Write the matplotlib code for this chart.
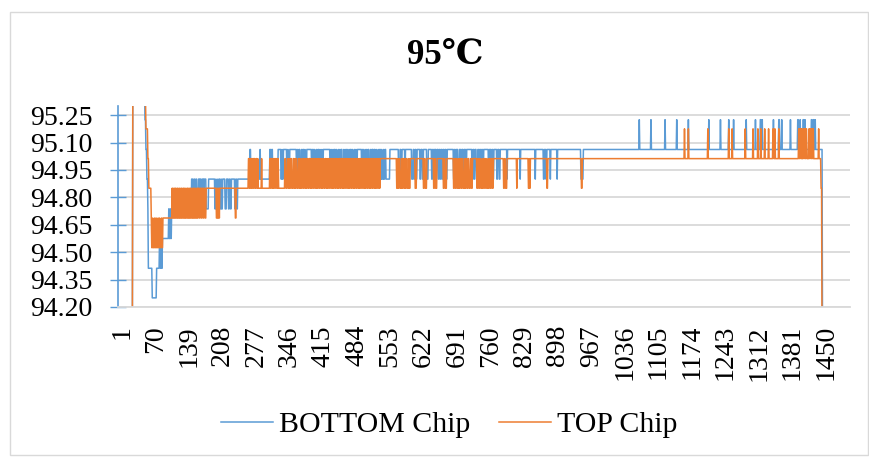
import numpy as np
import matplotlib.pyplot as plt
from matplotlib.patches import Rectangle
from matplotlib.transforms import ScaledTranslation

plt.rcParams['font.family'] = ['Liberation Serif', 'DejaVu Serif']

# ---- data (x = sample number, y = temperature) ----
n_points = 1506
x_tick_values = list(range(1, 1451, 69))
y_tick_values = [94.20, 94.35, 94.50, 94.65, 94.80, 94.95, 95.10, 95.25]

# baseline level: (first sample, value) -> holds until the next entry
bottom_steps = [(1, 94.00), (31, 95.45), (56, 95.225), (58, 95.062), (60, 94.900),
                (62, 94.737), (63, 94.412), (71, 94.250), (80, 94.412), (94, 94.575),
                (105, 94.737), (187, 94.900), (334, 95.062), (1450, 94.00)]
# short excursions off the baseline: (first sample, length, value)
bottom_blips = [
    (86, 2, 94.575), (89, 2, 94.575), (92, 2, 94.575), (106, 2, 94.575), (109, 2, 94.575),
    (152, 3, 94.900), (157, 2, 94.900), (161, 2, 94.900), (166, 3, 94.900), (170, 2, 94.900),
    (174, 3, 94.900), (178, 4, 94.900),
    (183, 3, 94.737), (200, 2, 94.737), (203, 3, 94.737), (207, 2, 94.737), (211, 2, 94.737),
    (214, 2, 94.737), (221, 3, 94.737), (228, 2, 94.737), (232, 2, 94.737), (241, 2, 94.737),
    (245, 2, 94.737),
    (272, 2, 95.062), (293, 1, 95.062), (313, 2, 95.062), (317, 2, 95.062), (330, 4, 95.062),
    (336, 2, 94.900), (339, 2, 94.900), (348, 2, 94.900), (351, 3, 94.900), (368, 2, 94.900),
    (371, 2, 94.900), (375, 3, 94.900), (379, 2, 94.900), (383, 2, 94.900), (386, 3, 94.900),
    (399, 2, 94.900), (403, 2, 94.900), (406, 3, 94.900), (410, 2, 94.900), (414, 2, 94.900),
    (417, 3, 94.900), (421, 2, 94.900), (437, 2, 94.900), (440, 3, 94.900), (444, 2, 94.900),
    (448, 2, 94.900), (451, 3, 94.900), (455, 2, 94.900), (458, 2, 94.900), (462, 3, 94.900),
    (466, 2, 94.900), (469, 2, 94.900), (473, 3, 94.900), (477, 2, 94.900), (481, 2, 94.900),
    (484, 3, 94.900), (488, 2, 94.900), (491, 2, 94.900), (502, 2, 94.900), (506, 3, 94.900),
    (510, 2, 94.900), (513, 2, 94.900), (517, 3, 94.900), (521, 2, 94.900), (526, 2, 94.900),
    (530, 2, 94.900), (533, 3, 94.900), (537, 2, 94.900), (541, 2, 94.900), (544, 3, 94.900),
    (548, 2, 94.900), (552, 8, 94.900),
    (578, 3, 94.900), (583, 2, 94.900), (591, 1, 94.900), (605, 3, 94.900), (610, 2, 94.900),
    (614, 2, 94.900), (622, 2, 94.900), (627, 2, 94.900), (636, 3, 94.900), (646, 2, 94.900),
    (650, 2, 94.900), (655, 2, 94.900), (660, 2, 94.900), (664, 2, 94.900), (668, 2, 94.900),
    (672, 2, 94.900), (676, 2, 94.900), (691, 2, 94.900), (695, 2, 94.900), (700, 3, 94.900),
    (706, 2, 94.900), (711, 2, 94.900), (716, 2, 94.900), (729, 2, 94.900), (733, 2, 94.900),
    (738, 3, 94.900), (743, 2, 94.900), (747, 2, 94.900), (751, 2, 94.900), (763, 2, 94.900),
    (768, 2, 94.900), (772, 2, 94.900), (780, 2, 94.900), (785, 2, 94.900), (801, 1, 94.900),
    (828, 1, 94.900), (859, 1, 94.900), (876, 2, 94.900), (881, 2, 94.900), (890, 1, 94.900),
    (904, 1, 94.900), (953, 5, 94.900),
    (1073, 1, 95.225), (1097, 1, 95.225), (1126, 1, 95.225), (1150, 1, 95.225),
    (1174, 1, 95.225), (1216, 1, 95.225), (1240, 1, 95.225), (1257, 1, 95.225),
    (1267, 1, 95.225), (1293, 1, 95.225), (1312, 1, 95.225), (1322, 2, 95.225),
    (1326, 1, 95.225), (1349, 1, 95.225), (1360, 2, 95.225), (1366, 1, 95.225),
    (1384, 1, 95.225), (1399, 2, 95.225), (1404, 1, 95.225), (1410, 2, 95.225),
    (1414, 1, 95.225), (1427, 2, 95.225), (1431, 2, 95.225), (1435, 1, 95.225),
]

top_steps = [(1, 94.00), (31, 95.45), (56, 95.35), (58, 95.175), (62, 95.012),
             (64, 94.850), (69, 94.687), (112, 94.850), (540, 95.012), (1447, 94.850),
             (1449, 94.00)]
top_blips = [
    (70, 2, 94.525), (73, 3, 94.525), (77, 2, 94.525), (80, 3, 94.525), (84, 2, 94.525),
    (87, 3, 94.525), (91, 2, 94.525),
    (113, 1, 94.687), (115, 2, 94.687), (118, 1, 94.687), (120, 2, 94.687), (123, 1, 94.687),
    (125, 2, 94.687), (128, 2, 94.687), (131, 1, 94.687), (133, 2, 94.687), (136, 1, 94.687),
    (138, 2, 94.687), (141, 2, 94.687), (144, 1, 94.687), (146, 2, 94.687), (149, 1, 94.687),
    (151, 2, 94.687), (154, 2, 94.687), (157, 1, 94.687), (159, 2, 94.687), (162, 2, 94.687),
    (165, 1, 94.687), (168, 2, 94.687), (172, 2, 94.687), (176, 2, 94.687), (180, 2, 94.687),
    (203, 2, 94.687), (206, 2, 94.687), (209, 1, 94.687), (242, 2, 94.687),
    (269, 2, 95.012), (272, 2, 95.012), (275, 1, 95.012), (278, 2, 95.012), (281, 2, 95.012),
    (285, 2, 95.012), (288, 1, 95.012), (296, 1, 95.012), (313, 2, 95.012), (316, 2, 95.012),
    (320, 1, 95.012), (323, 2, 95.012), (327, 2, 95.012), (330, 1, 95.012), (344, 2, 95.012),
    (349, 2, 95.012), (353, 1, 95.012), (356, 2, 95.012), (361, 2, 95.012), (364, 1, 95.012),
    (367, 2, 95.012), (372, 2, 95.012), (375, 1, 95.012), (379, 2, 95.012), (383, 2, 95.012),
    (387, 1, 95.012), (390, 2, 95.012), (394, 2, 95.012), (398, 1, 95.012), (401, 2, 95.012),
    (405, 2, 95.012), (409, 1, 95.012), (412, 2, 95.012), (416, 2, 95.012), (420, 1, 95.012),
    (423, 2, 95.012), (427, 2, 95.012), (431, 1, 95.012), (434, 2, 95.012), (438, 2, 95.012),
    (442, 1, 95.012), (445, 2, 95.012), (449, 2, 95.012), (453, 1, 95.012), (456, 2, 95.012),
    (460, 2, 95.012), (464, 1, 95.012), (467, 2, 95.012), (471, 2, 95.012), (475, 1, 95.012),
    (478, 2, 95.012), (482, 2, 95.012), (486, 1, 95.012), (489, 2, 95.012), (493, 2, 95.012),
    (497, 1, 95.012), (500, 2, 95.012), (504, 2, 95.012), (508, 1, 95.012), (511, 2, 95.012),
    (515, 2, 95.012), (519, 1, 95.012), (522, 2, 95.012), (526, 2, 95.012), (530, 1, 95.012),
    (533, 2, 95.012), (537, 2, 95.012),
    (574, 2, 94.850), (577, 2, 94.850), (581, 3, 94.850), (585, 2, 94.850), (589, 2, 94.850),
    (592, 2, 94.850), (596, 3, 94.850), (600, 2, 94.850), (612, 3, 94.850), (629, 2, 94.850),
    (633, 3, 94.850), (650, 2, 94.850), (654, 3, 94.850), (670, 2, 94.850), (674, 3, 94.850),
    (691, 2, 94.850), (695, 2, 94.850), (699, 3, 94.850), (703, 2, 94.850), (707, 2, 94.850),
    (711, 3, 94.850), (715, 2, 94.850), (719, 2, 94.850), (723, 3, 94.850), (728, 2, 94.850),
    (739, 2, 94.850), (743, 2, 94.850), (747, 3, 94.850), (751, 2, 94.850), (755, 2, 94.850),
    (759, 3, 94.850), (763, 2, 94.850), (767, 2, 94.850), (771, 2, 94.850), (794, 2, 94.850),
    (798, 3, 94.850), (821, 1, 94.850), (845, 2, 94.850), (848, 1, 94.850), (883, 2, 94.850),
    (954, 2, 94.850),
    (1166, 1, 95.175), (1174, 1, 95.175), (1214, 1, 95.175), (1257, 1, 95.175),
    (1264, 1, 95.175), (1291, 1, 95.175), (1307, 1, 95.175), (1317, 1, 95.175),
    (1323, 1, 95.175), (1331, 1, 95.175), (1339, 1, 95.175), (1348, 2, 95.175),
    (1352, 1, 95.175), (1360, 1, 95.175), (1401, 2, 95.175), (1404, 2, 95.175),
    (1407, 1, 95.175), (1410, 2, 95.175), (1413, 2, 95.175), (1416, 2, 95.175),
    (1422, 2, 95.175), (1425, 2, 95.175), (1428, 2, 95.175), (1431, 1, 95.175),
    (1442, 1, 95.175),
]


def build_series(steps, blips, n):
    y = np.empty(n)
    ends = [s for s, _ in steps[1:]] + [n + 1]
    for (start, val), end in zip(steps, ends):
        y[start - 1:end - 1] = val
    for start, width, val in blips:
        y[start - 1:start - 1 + width] = val
    return y


x = np.arange(1, n_points + 1)
bottom_chip = build_series(bottom_steps, bottom_blips, n_points)
top_chip = build_series(top_steps, top_blips, n_points)

fig = plt.figure(figsize=(8.69, 4.57), dpi=100)
W, H = 869, 457
ax = fig.add_axes([118 / W, 1 - 307 / H, (850 - 118) / W, (307 - 106) / H])

ax.plot(x, bottom_chip, color='#5b9bd5', lw=1.1, label='BOTTOM Chip')
ax.plot(x, top_chip, color='#ed7d31', lw=1.1, label='TOP Chip')

ax.set_xlim(0.5, n_points + 0.5)
ax.set_ylim(94.20, 95.30)
ax.set_yticks(y_tick_values)
ax.set_yticklabels(['%.2f' % v for v in y_tick_values])
ax.set_xticks(x_tick_values)
ax.set_xticklabels([str(v) for v in x_tick_values], rotation=90)

ax.tick_params(axis='x', length=0, labelsize=20, pad=13)
ax.tick_params(axis='y', direction='inout', length=11, width=1, color='#5b9bd5',
               labelsize=20, pad=13)
# excel draws the rotated labels a touch right of the category
shift = ScaledTranslation(3.5 / 100, 0, fig.dpi_scale_trans)
for lbl in ax.get_xticklabels():
    lbl.set_transform(lbl.get_transform() + shift)

ax.grid(axis='y', color='#d9d9d9', lw=1.3)
ax.set_axisbelow(True)
for side in ['top', 'right']:
    ax.spines[side].set_visible(False)
ax.spines['left'].set_color('#5b9bd5')
ax.spines['left'].set_linewidth(1.2)
ax.spines['bottom'].set_color('#d9d9d9')
ax.spines['bottom'].set_linewidth(1.3)

fig.text(445 / W, 1 - 55 / H, '95℃', ha='center', va='center', fontsize=25,
         fontweight='bold')
fig.legend(loc='center', bbox_to_anchor=(449 / W, 1 - 425 / H), ncol=2, frameon=False,
           fontsize=21.5, handlelength=1.75, handletextpad=0.2, columnspacing=0.95)

# chart area border
fig.patches.append(Rectangle((10 / W, 2 / H), 858 / W, 443 / H, transform=fig.transFigure,
                             fill=False, ec='#d9d9d9', lw=1))

fig.savefig('out.png', dpi=100)
